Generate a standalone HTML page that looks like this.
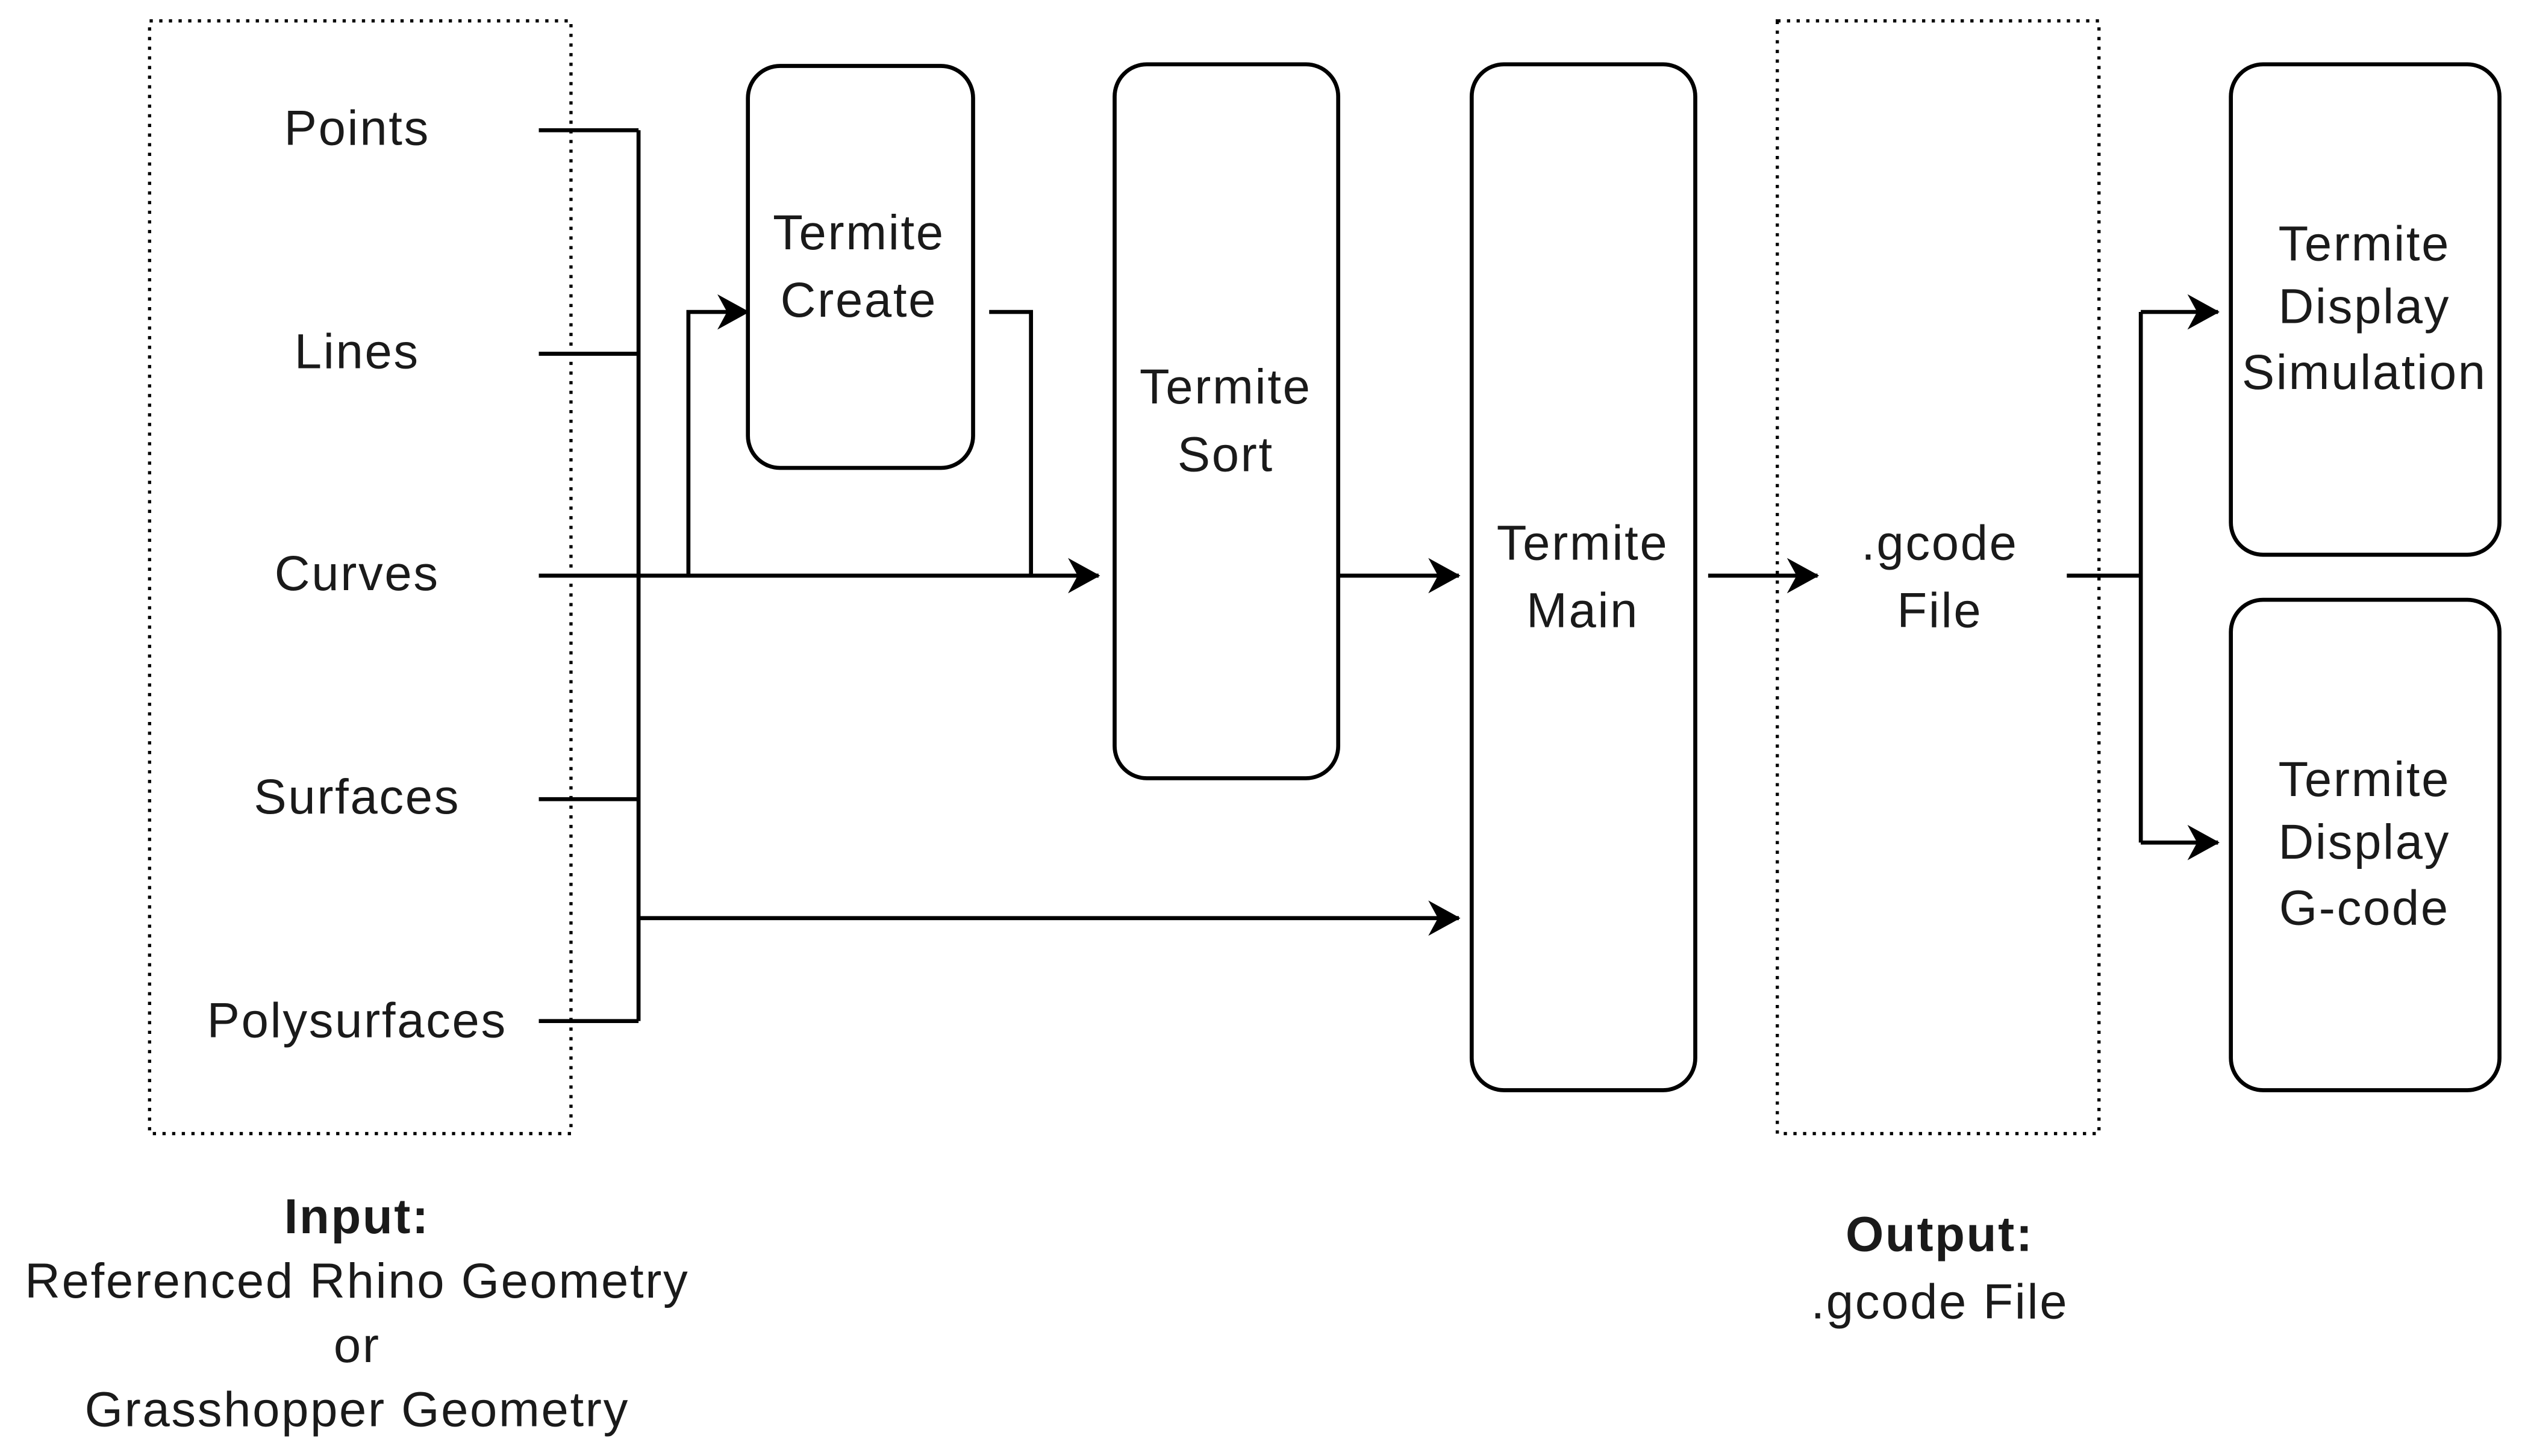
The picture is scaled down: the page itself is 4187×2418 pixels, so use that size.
<!DOCTYPE html>
<html><head><meta charset="utf-8"><style>html,body{margin:0;padding:0;background:#fff}svg{display:block}</style></head>
<body>
<svg width="4187" height="2418" viewBox="0 0 1568 905.5" preserveAspectRatio="none" xmlns="http://www.w3.org/2000/svg">
<defs>
<marker id="a" viewBox="0 0 20 22" refX="19" refY="11" markerWidth="20" markerHeight="22" markerUnits="userSpaceOnUse" orient="auto">
<path d="M0,0 L20,11 L0,22 L6,11 Z" fill="#000"/>
</marker>
</defs>
<g fill="none" stroke="#000" stroke-width="2.5">
<rect x="93" y="13" width="262" height="692" stroke-dasharray="2,4" stroke-width="2"/>
<rect x="1105" y="13" width="200" height="692" stroke-dasharray="2,4" stroke-width="2"/>
<rect x="465" y="41" width="140" height="250" rx="20"/>
<rect x="693" y="40" width="139" height="444" rx="20"/>
<rect x="915" y="40" width="139" height="638" rx="20"/>
<rect x="1387" y="40" width="167" height="305" rx="20"/>
<rect x="1387" y="373" width="167" height="305" rx="20"/>
<path d="M335,81 H397 M335,220 H397 M335,497 H397 M335,635 H397 M397,81 V635"/>
<path d="M335,358 H683" marker-end="url(#a)"/>
<path d="M428,358 V194 H465" marker-end="url(#a)"/>
<path d="M615,194 H641 V358"/>
<path d="M832,358 H907" marker-end="url(#a)"/>
<path d="M397,571 H907" marker-end="url(#a)"/>
<path d="M1062,358 H1130" marker-end="url(#a)"/>
<path d="M1285,358 H1331 M1331,194 V524"/>
<path d="M1331,194 H1379" marker-end="url(#a)"/>
<path d="M1331,524 H1379" marker-end="url(#a)"/>
</g>
<g font-family="Liberation Sans, sans-serif" font-size="30.5" letter-spacing="1" text-anchor="middle" fill="#1a1a1a">
<text x="222" y="90">Points</text>
<text x="222" y="229">Lines</text>
<text x="222" y="367">Curves</text>
<text x="222" y="506">Surfaces</text>
<text x="222" y="645">Polysurfaces</text>
<text x="534" y="155">Termite</text><text x="534" y="197">Create</text>
<text x="762" y="251">Termite</text><text x="762" y="293">Sort</text>
<text x="984" y="348">Termite</text><text x="984" y="390">Main</text>
<text x="1206" y="348">.gcode</text><text x="1206" y="390">File</text>
<text x="1470" y="162">Termite</text><text x="1470" y="201">Display</text><text x="1470" y="242">Simulation</text>
<text x="1470" y="495">Termite</text><text x="1470" y="534">Display</text><text x="1470" y="575">G-code</text>
<text x="222" y="767" font-weight="bold">Input:</text>
<text x="222" y="807">Referenced Rhino Geometry</text>
<text x="222" y="847">or</text>
<text x="222" y="887">Grasshopper Geometry</text>
<text x="1206" y="778" font-weight="bold">Output:</text>
<text x="1206" y="820">.gcode File</text>
</g>
</svg>
</body></html>
